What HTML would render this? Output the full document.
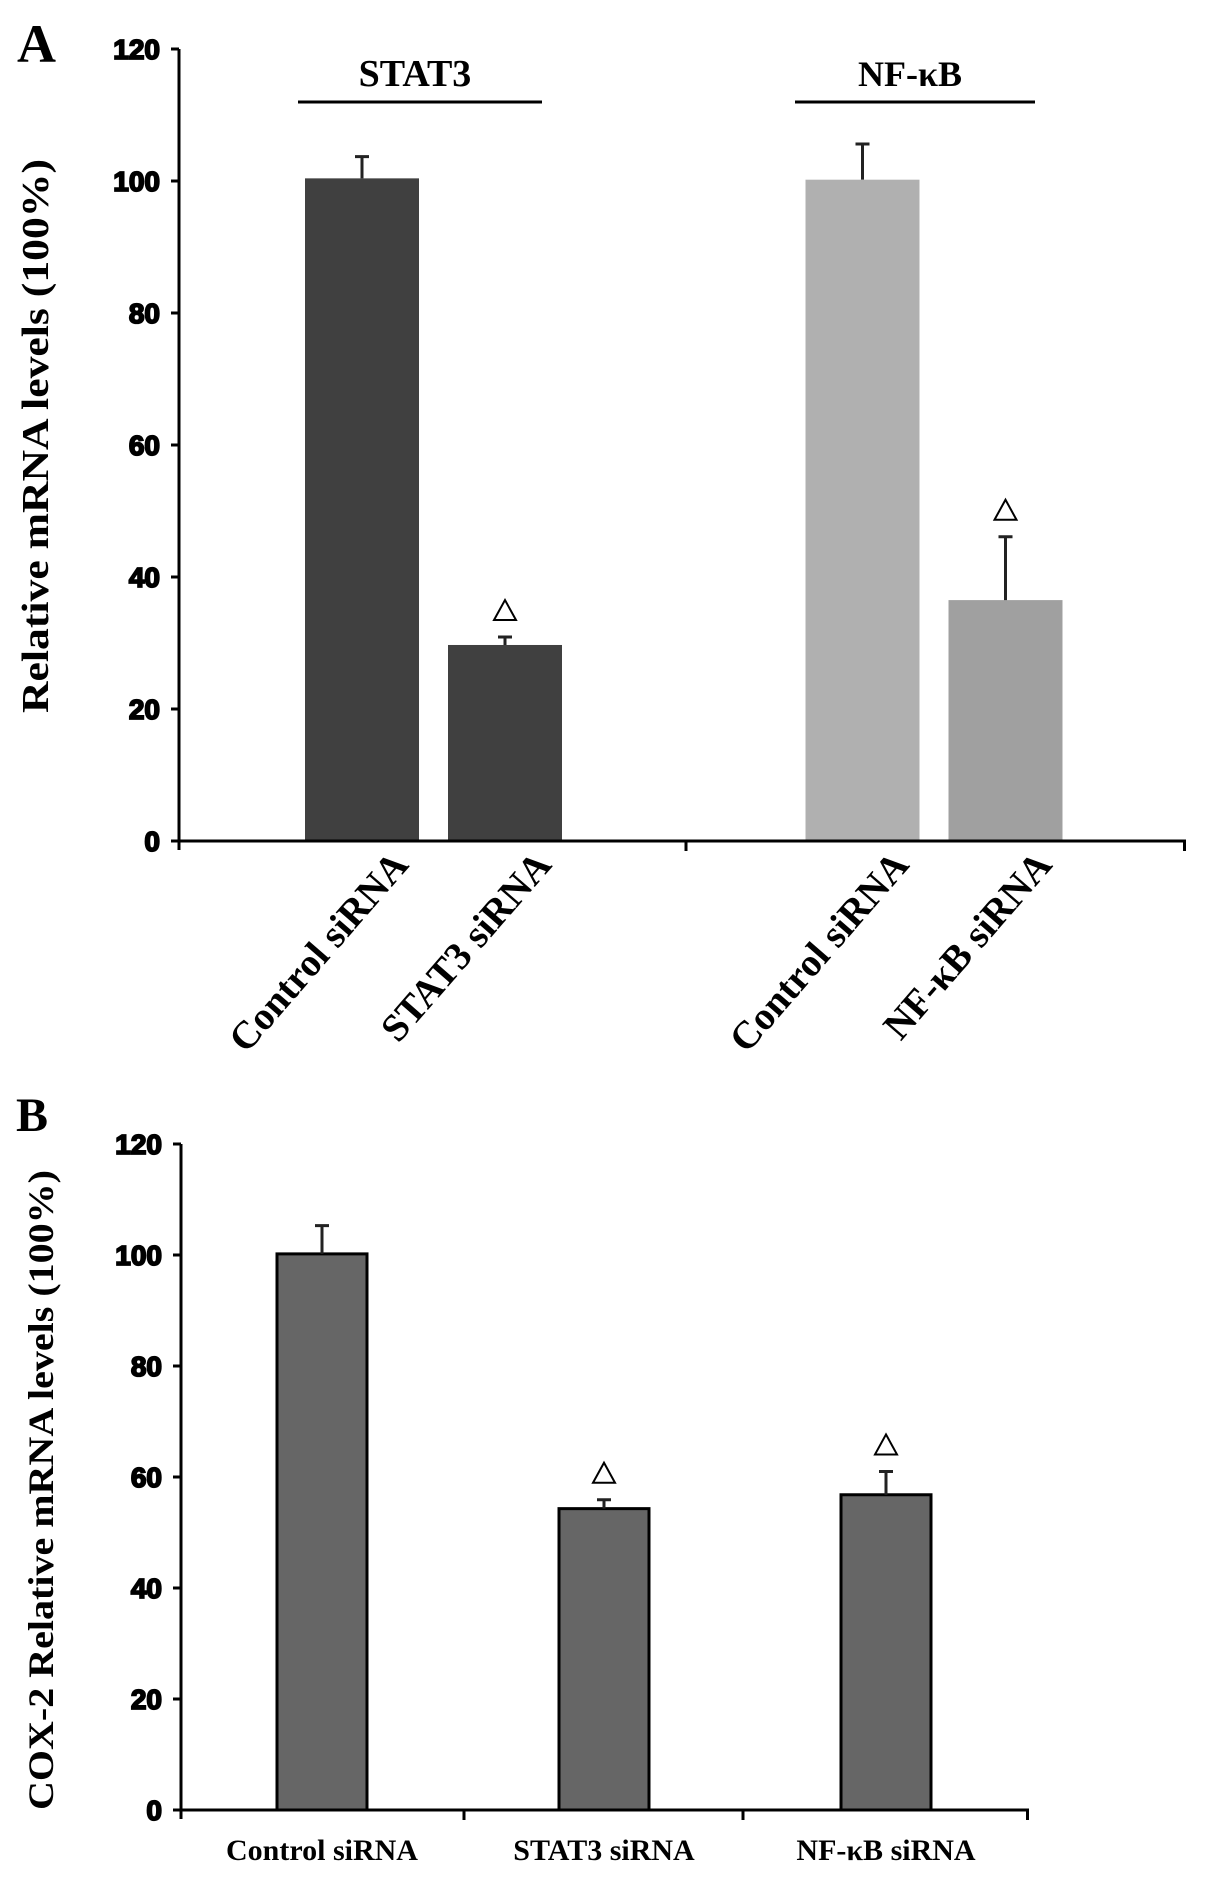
<!DOCTYPE html>
<html><head><meta charset="utf-8"><style>
html,body{margin:0;padding:0;background:#fff;}
svg{display:block;}
.tick{font-family:"Liberation Sans",sans-serif;font-weight:bold;font-size:28px;fill:#000;stroke:#000;stroke-width:1.8px;}
.serif{font-family:"Liberation Serif",serif;font-weight:bold;fill:#000;}
</style></head><body>
<svg id="fig" width="1205" height="1878" viewBox="0 0 1205 1878" xmlns="http://www.w3.org/2000/svg">
<text class="serif" x="17" y="62" font-size="54">A</text>
<text class="serif" x="16" y="1131" font-size="48">B</text>
<text class="serif" font-size="38" transform="translate(48,436) rotate(-90)" text-anchor="middle" textLength="554" lengthAdjust="spacingAndGlyphs">Relative mRNA levels (100%)</text>
<text class="serif" font-size="36" transform="translate(53,1490) rotate(-90)" text-anchor="middle" textLength="640" lengthAdjust="spacingAndGlyphs">COX-2 Relative mRNA levels (100%)</text>
<text class="serif" x="415" y="86" font-size="38" text-anchor="middle">STAT3</text>
<line x1="298" y1="102" x2="542" y2="102" stroke="#000" stroke-width="3"/>
<text class="serif" x="910" y="86" font-size="36" text-anchor="middle">NF-κB</text>
<line x1="795" y1="102" x2="1035" y2="102" stroke="#000" stroke-width="3"/>
<g id="chartA"></g>
<g id="chartB"></g>
</svg>
<script>
// Panel A data
const catsA = ["Control siRNA", "STAT3 siRNA", "Control siRNA", "NF-κB siRNA"];
const valsA = [100.4, 29.7, 100.2, 36.5];
const errA = [3.3, 1.2, 5.4, 9.6];
const sigA = [false, true, false, true];
const colorsA = ["#404040", "#404040", "#b0b0b0", "#a0a0a0"];
// Panel B data
const catsB = ["Control siRNA", "STAT3 siRNA", "NF-κB siRNA"];
const valsB = [100.2, 54.3, 56.8];
const errB = [5.1, 1.6, 4.2];
const sigB = [false, true, true];
const ticks = [0, 20, 40, 60, 80, 100, 120];

const NS = "http://www.w3.org/2000/svg";
function mk(parent, tag, attrs) {
  const e = document.createElementNS(NS, tag);
  for (const k in attrs) e.setAttribute(k, attrs[k]);
  parent.appendChild(e);
  return e;
}
function yA(v) { return 841 - v * 6.6; }
function xA(i) { const slots = [0, 1, 3.5, 4.5]; return 362 + slots[i] * 143; }
function yB(v) { return 1810 - v * 5.55; }
function xB(i) { return 322 + i * 282; }

function drawAxis(g, axisX, yFn, xEnd, midTicks, prefix) {
  const y0 = yFn(0);
  let l = mk(g, "line", {x1: axisX, y1: yFn(120), x2: axisX, y2: y0 + 9, stroke: "#000", "stroke-width": 3});
  
  
  l = mk(g, "line", {x1: axisX - 8, y1: y0, x2: xEnd, y2: y0, stroke: "#000", "stroke-width": 3});
  
  
  midTicks.concat([xEnd - 1.5]).forEach(function (tx) {
    const t = mk(g, "line", {x1: tx, y1: y0, x2: tx, y2: y0 + 10, stroke: "#000", "stroke-width": 3});
    
    
  });
  ticks.forEach(function (v) {
    const t = mk(g, "line", {x1: axisX - 8, y1: yFn(v), x2: axisX, y2: yFn(v), stroke: "#000", "stroke-width": 3});
    
    
    const tx = mk(g, "text", {x: axisX - 19, y: yFn(v) + 10, "text-anchor": "end", "class": "tick"});
    tx.textContent = v;
    
    
  });
}
function drawBars(g, vals, errs, sigs, xFn, yFn, w, fills, stroke, prefix) {
  vals.forEach(function (v, i) {
    const cx = xFn(i);
    const r = mk(g, "rect", {x: cx - w / 2, y: yFn(v), width: w, height: yFn(0) - yFn(v), fill: fills[i]});
    if (stroke) { r.setAttribute("stroke", "#000"); r.setAttribute("stroke-width", "3"); }
    
    
    const top = yFn(v + errs[i]);
    const e = mk(g, "path", {d: "M" + cx + " " + yFn(v) + "V" + top + "M" + (cx - 7) + " " + top + "H" + (cx + 7), stroke: "#222", "stroke-width": 3, fill: "none"});
    
    
    if (sigs[i]) {
      const b = top - 17;
      const t = mk(g, "polygon", {points: (cx - 11) + "," + b + " " + (cx + 11) + "," + b + " " + cx + "," + (b - 20), fill: "none", stroke: "#000", "stroke-width": 2});
      
      
    }
  });
}
const gA = document.getElementById("chartA");
drawBars(gA, valsA, errA, sigA, xA, yA, 114, colorsA, false, "a");
drawAxis(gA, 179, yA, 1186, [686], "a");
catsA.forEach(function (c, i) {
  const x = xA(i) + 48, y = 866;
  const t = mk(gA, "text", {x: 0, y: 0, "text-anchor": "end", "class": "serif", "font-size": 39, transform: "translate(" + x + "," + y + ") rotate(-49)"});
  t.textContent = c;
  
  
});
const gB = document.getElementById("chartB");
drawBars(gB, valsB, errB, sigB, xB, yB, 90, ["#666", "#666", "#666"], true, "b");
drawAxis(gB, 181, yB, 1029, [464, 743], "b");
catsB.forEach(function (c, i) {
  const t = mk(gB, "text", {x: xB(i), y: 1860, "text-anchor": "middle", "class": "serif", "font-size": 30});
  t.textContent = c;
  
  
});
</script>
</body></html>
